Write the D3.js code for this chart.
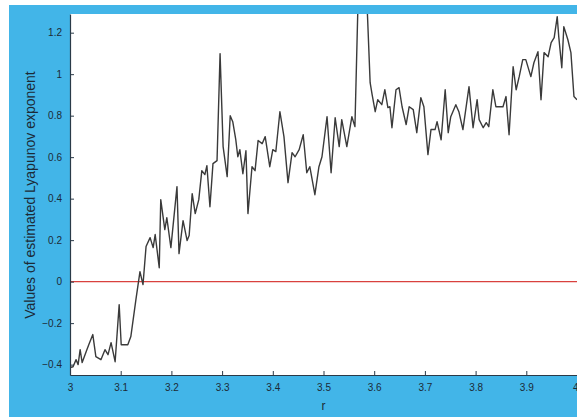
<!DOCTYPE html>
<html>
<head>
<meta charset="utf-8">
<script src="https://cdn.jsdelivr.net/npm/d3@7"></script>
<style>
  body { margin: 0; background: #fff; }
  svg { display: block; }
  text { font-family: "Liberation Sans", Arial, sans-serif; }
</style>
</head>
<body>
<script>
'use strict';

// r values (control parameter of the logistic map)
const rValues = [
  3.000, 3.006, 3.012, 3.016, 3.020, 3.024, 3.032, 3.037, 3.045, 3.051,
  3.061, 3.069, 3.075, 3.081, 3.089, 3.097, 3.101, 3.108, 3.114, 3.120,
  3.130, 3.138, 3.144, 3.150, 3.158, 3.164, 3.168, 3.176, 3.179, 3.187,
  3.191, 3.199, 3.211, 3.215, 3.223, 3.231, 3.235, 3.241, 3.247, 3.254,
  3.260, 3.266, 3.270, 3.276, 3.282, 3.290, 3.296, 3.302, 3.310, 3.316,
  3.321, 3.327, 3.331, 3.335, 3.341, 3.347, 3.351, 3.359, 3.365, 3.371,
  3.379, 3.385, 3.394, 3.400, 3.406, 3.414, 3.422, 3.430, 3.438, 3.444,
  3.452, 3.460, 3.467, 3.473, 3.483, 3.491, 3.497, 3.507, 3.515, 3.523,
  3.531, 3.536, 3.546, 3.556, 3.562, 3.568, 3.576, 3.586, 3.592, 3.596,
  3.602, 3.607, 3.615, 3.621, 3.627, 3.631, 3.635, 3.643, 3.649, 3.655,
  3.663, 3.669, 3.677, 3.684, 3.692, 3.698, 3.706, 3.712, 3.720, 3.724,
  3.732, 3.740, 3.746, 3.751, 3.761, 3.767, 3.775, 3.787, 3.795, 3.803,
  3.807, 3.815, 3.821, 3.826, 3.834, 3.840, 3.846, 3.854, 3.860, 3.866,
  3.874, 3.880, 3.886, 3.893, 3.899, 3.909, 3.915, 3.923, 3.929, 3.935,
  3.943, 3.949, 3.955, 3.961, 3.964, 3.970, 3.974, 3.982, 3.988, 3.994,
  4.000
];

// estimated Lyapunov exponent at each r
const lyapValues = [
  -0.414, -0.410, -0.376, -0.400, -0.328, -0.390, -0.337, -0.304, -0.255, -0.361,
  -0.376, -0.328, -0.352, -0.294, -0.386, -0.111, -0.304, -0.304, -0.304, -0.265,
  -0.087, 0.048, -0.014, 0.169, 0.212, 0.164, 0.227, 0.067, 0.395, 0.251,
  0.308, 0.164, 0.458, 0.135, 0.294, 0.198, 0.222, 0.424, 0.328, 0.395,
  0.535, 0.516, 0.559, 0.361, 0.569, 0.583, 1.099, 0.651, 0.506, 0.800,
  0.771, 0.684, 0.602, 0.636, 0.520, 0.631, 0.328, 0.554, 0.535, 0.680,
  0.665, 0.699, 0.554, 0.636, 0.627, 0.819, 0.699, 0.477, 0.622, 0.602,
  0.636, 0.708, 0.525, 0.554, 0.419, 0.554, 0.602, 0.795, 0.525, 0.790,
  0.651, 0.781, 0.651, 0.795, 0.747, 1.340, 1.360, 1.330, 0.959, 0.900,
  0.819, 0.877, 0.853, 0.925, 0.839, 0.843, 0.742, 0.925, 0.935, 0.843,
  0.757, 0.843, 0.829, 0.718, 0.887, 0.843, 0.612, 0.733, 0.733, 0.771,
  0.684, 0.925, 0.718, 0.795, 0.853, 0.819, 0.733, 0.940, 0.742, 0.877,
  0.781, 0.742, 0.766, 0.747, 0.925, 0.843, 0.843, 0.843, 0.892, 0.708,
  1.036, 0.925, 0.988, 1.070, 1.070, 0.988, 1.055, 1.108, 0.877, 1.104,
  1.084, 1.152, 1.176, 1.277, 1.181, 1.031, 1.229, 1.166, 1.104, 0.892,
  0.877
];

const xTicks = [3, 3.1, 3.2, 3.3, 3.4, 3.5, 3.6, 3.7, 3.8, 3.9, 4];
const yTicks = [-0.4, -0.2, 0, 0.2, 0.4, 0.6, 0.8, 1, 1.2];

(function() {
  const width = 577, height = 417;
  const plotLeft = 70, plotRight = 577, plotTop = 14, plotBottom = 375;

  const svg = d3.select('body').append('svg')
    .attr('width', width)
    .attr('height', height);

  // blue figure background (small white margin at top/left)
  svg.append('rect')
    .attr('x', 9).attr('y', 5)
    .attr('width', width - 9).attr('height', height - 5)
    .attr('fill', '#42b5e8');

  // white axes area
  svg.append('rect')
    .attr('x', plotLeft).attr('y', plotTop)
    .attr('width', plotRight - plotLeft).attr('height', plotBottom - plotTop)
    .attr('fill', '#ffffff');

  const x = d3.scaleLinear().domain([3, 4]).range([plotLeft, plotRight]);
  const y = d3.scaleLinear().domain([-0.45, 1.29]).range([plotBottom, plotTop]);

  svg.append('clipPath').attr('id', 'plotclip')
    .append('rect')
    .attr('x', plotLeft).attr('y', plotTop)
    .attr('width', plotRight - plotLeft).attr('height', plotBottom - plotTop);

  // zero reference line
  svg.append('line')
    .attr('x1', x(3)).attr('x2', x(4))
    .attr('y1', y(0)).attr('y2', y(0))
    .attr('stroke', '#d9413e')
    .attr('stroke-width', 1.2);

  const pts = rValues.map((r, i) => [r, lyapValues[i]]);
  svg.append('path')
    .datum(pts)
    .attr('clip-path', 'url(#plotclip)')
    .attr('fill', 'none')
    .attr('stroke', '#3a3a3a')
    .attr('stroke-width', 1.4)
    .attr('stroke-linejoin', 'round')
    .attr('d', d3.line().x(d => x(d[0])).y(d => y(d[1])));

  // axes: ticks pointing inward like MATLAB
  const xAxis = d3.axisBottom(x)
    .tickValues(xTicks)
    .tickSizeInner(-4).tickSizeOuter(0)
    .tickPadding(9)
    .tickFormat(d3.format('~g'));
  const gx = svg.append('g')
    .attr('transform', 'translate(0,' + plotBottom + ')')
    .call(xAxis);

  const yAxis = d3.axisLeft(y)
    .tickValues(yTicks)
    .tickSizeInner(-4).tickSizeOuter(0)
    .tickPadding(8)
    .tickFormat(d3.format('~g'));
  const gy = svg.append('g')
    .attr('transform', 'translate(' + plotLeft + ',0)')
    .call(yAxis);

  [gx, gy].forEach(g => {
    g.select('.domain').attr('stroke', '#2a3a48').attr('stroke-width', 1.2);
    g.selectAll('.tick line').attr('stroke', '#2a3a48');
    g.selectAll('.tick text')
      .attr('fill', '#1c2a36')
      .style('font-size', '10px')
      .style('font-family', '"Liberation Sans", Arial, sans-serif');
  });

  // last x label sits at the window edge: keep it inside
  gx.selectAll('.tick text')
    .filter(d => d === 4)
    .attr('text-anchor', 'end')
    .attr('dx', 1);

  // labels
  svg.append('text')
    .attr('x', x(3.5)).attr('y', 410)
    .attr('text-anchor', 'middle')
    .attr('fill', '#1c2a36')
    .style('font-size', '12px')
    .text('r');

  svg.append('text')
    .attr('transform', 'translate(35,195)rotate(-90)')
    .attr('text-anchor', 'middle')
    .attr('fill', '#1c2a36')
    .style('font-size', '14px')
    .text('Values of estimated Lyapunov exponent');
})();
</script>
</body>
</html>
